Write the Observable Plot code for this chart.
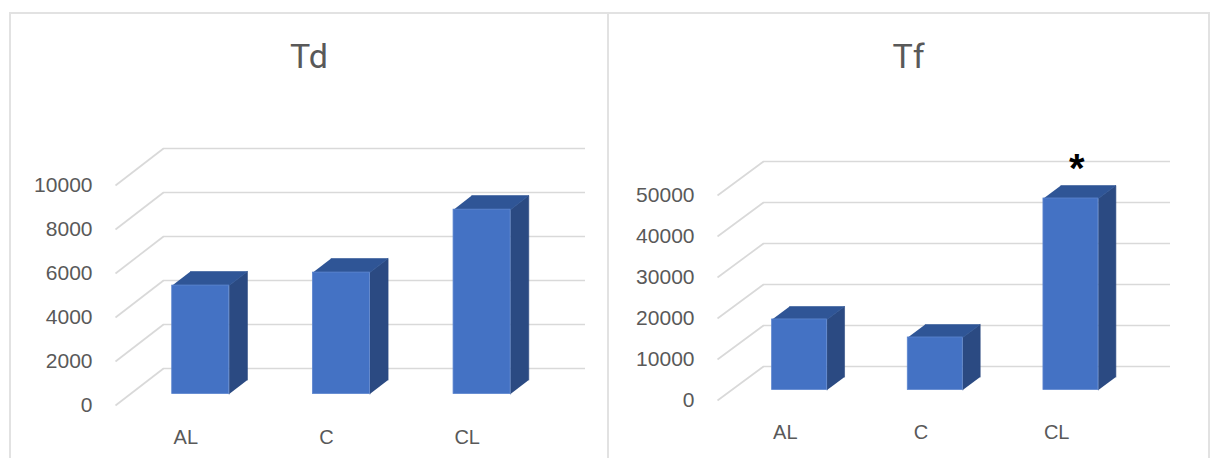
<!DOCTYPE html>
<html>
<head>
<meta charset="utf-8">
<script src="https://cdn.jsdelivr.net/npm/d3@7"></script>
<script src="https://cdn.jsdelivr.net/npm/@observablehq/plot@0.6"></script>
<style>
html, body { margin: 0; padding: 0; background: #fff; width: 1210px; height: 458px; overflow: hidden; position: relative; }
.chart { position: absolute; top: 0; }
.panel { position: absolute; top: 12px; height: 470px; box-sizing: border-box; border-top: 2px solid #e2e2e2; border-left: 2px solid #e2e2e2; z-index: 5; pointer-events: none; }
.title { position: absolute; top: 39px; font-family: Roboto, "Liberation Sans", sans-serif; font-size: 34px; line-height: 34px; color: #595959; text-align: center; z-index: 6; }
</style>
</head>
<body>
<div id="left" class="chart" style="left:0px;width:608px"></div>
<div id="right" class="chart" style="left:608px;width:602px"></div>
<div class="panel" style="left:9px;width:600px"></div>
<div class="panel" style="left:607px;width:603px;border-right:2px solid #e2e2e2"></div>
<div id="t0" class="title" style="left:9px;width:600px"></div>
<div id="t1" class="title" style="left:607px;width:603px"></div>
<script>
// ---- data ----
const categories = ["AL", "C", "CL"];
const titles = ["Td", "Tf"];
const tdValues = [4930, 5520, 8380];
const tfValues = [17200, 12800, 46700];
const tdTicks = [0, 2000, 4000, 6000, 8000, 10000];
const tfTicks = [0, 10000, 20000, 30000, 40000, 50000];
const tdNotes = ["", "", ""];
const tfNotes = ["", "", "*"];

function panel({values, ticks, notes, width, ml, mr, mt, mb, depth}) {
  const height = 458;
  const n = categories.length;
  const yMax = ticks[ticks.length - 1];
  // oblique depth vector expressed in data units
  const kx = depth[0] / ((width - ml - mr) / n);
  const ky = depth[1] / ((height - mt - mb) / yMax);
  const half = 0.2025, t0 = 0.31, t1 = 0.69;
  const bars = values.map((v, i) => ({i, v, u0: i + 0.5 - half, u1: i + 0.5 + half, note: notes[i]}));
  const P = (k, u, v, t) => ({k, x: u + t * kx, y: v + t * ky});
  const side = bars.flatMap(b => [P(b.i, b.u1, 0, t0), P(b.i, b.u1, b.v, t0), P(b.i, b.u1, b.v, t1), P(b.i, b.u1, 0, t1)]);
  const top = bars.flatMap(b => [P(b.i, b.u0, b.v, t0), P(b.i, b.u1, b.v, t0), P(b.i, b.u1, b.v, t1), P(b.i, b.u0, b.v, t1)]);
  const grid = "#d9d9d9";
  return Plot.plot({
    width, height,
    marginLeft: ml, marginRight: mr, marginTop: mt, marginBottom: mb,
    x: {domain: [0, n], axis: null},
    y: {domain: [0, yMax], ticks, tickSize: 0, tickPadding: 23, tickFormat: d3.format("d"), label: null},
    style: {fontFamily: "'Liberation Sans', Arial, sans-serif", fontSize: "21px", color: "#595959", background: "transparent", overflow: "visible"},
    marks: [
      Plot.ruleY(ticks, {y: d => d + ky, x1: () => kx, x2: () => n + kx, stroke: grid, strokeWidth: 1.7}),
      Plot.link(ticks, {x1: () => 0, y1: d => d, x2: () => kx, y2: d => d + ky, stroke: grid, strokeWidth: 1.7}),
      Plot.line(side, {x: "x", y: "y", z: "k", fill: "#2b4a82", stroke: "#2b4a82", strokeWidth: 0.6}),
      Plot.line(top, {x: "x", y: "y", z: "k", fill: "#2f5596", stroke: "#2f5596", strokeWidth: 0.6}),
      Plot.rect(bars, {x1: b => b.u0 + t0 * kx, x2: b => b.u1 + t0 * kx, y1: () => t0 * ky, y2: b => b.v + t0 * ky, fill: "#4472c4", stroke: "#5d86cf", strokeWidth: 0.8}),
      Plot.text(categories, {x: (d, i) => i + 0.5, y: () => 0, dy: 32, text: d => d, fontSize: 20, fill: "#595959"}),
      Plot.text(bars.filter(b => b.note), {x: b => b.i + 0.5 + 0.5 * kx, y: b => b.v + 0.5 * ky, text: "note", dy: -23, dx: -3, fontSize: 40, fontWeight: "bold", fill: "#000"})
    ]
  });
}

document.getElementById("t0").textContent = titles[0];
document.getElementById("t1").textContent = titles[1];
document.getElementById("left").append(panel({values: tdValues, ticks: tdTicks, notes: tdNotes, width: 608, ml: 115, mr: 71, mt: 185, mb: 53, depth: [48, 37]}));
document.getElementById("right").append(panel({values: tfValues, ticks: tfTicks, notes: tfNotes, width: 602, ml: 109, mr: 86, mt: 195, mb: 58, depth: [46, 34]}));
</script>
</body>
</html>
